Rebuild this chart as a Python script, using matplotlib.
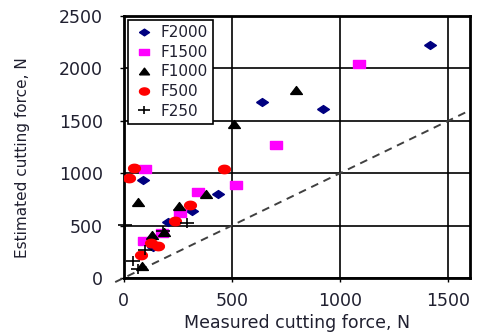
import numpy as np
import matplotlib
matplotlib.use("Agg")
import matplotlib.pyplot as plt
from matplotlib.path import Path

# measured vs estimated cutting force, N
f2000_x = [1415, 640, 920, 90, 435, 315, 205, 135]
f2000_y = [2225, 1680, 1615, 930, 805, 635, 530, 295]

f1500_x = [1085, 705, 100, 520, 345, 260, 175, 95]
f1500_y = [2040, 1265, 1040, 885, 820, 620, 430, 350]

f1000_x = [795, 510, 380, 65, 255, 185, 128, 85]
f1000_y = [1790, 1470, 805, 720, 683, 440, 410, 110]

f500_x = [45, 465, 25, 308, 236, 125, 160, 80]
f500_y = [1045, 1040, 950, 700, 547, 332, 300, 218]

f250_x = [5, 290, 182, 100, 42, 67]
f250_y = [505, 520, 443, 270, 162, 83]

ref_line = [-40, 1600]   # y = x

xticks = [0, 500, 1000, 1500]
yticks = [0, 500, 1000, 1500, 2000, 2500]

x_label = "Measured cutting force, N"
y_label = "Estimated cutting force, N"
txt = "#202030"

# markers are a bit wider than tall in the original
diamond = [(-1.5, 0), (0, 1), (1.5, 0), (0, -1), (-1.5, 0)]
rect = [(-1.5, -1), (-1.5, 1), (1.5, 1), (1.5, -1), (-1.5, -1)]
tri = [(-1.5, -1), (0, 1), (1.5, -1), (-1.5, -1)]
t = np.linspace(0, 2 * np.pi, 30)
ellipse = list(zip(1.4 * np.cos(t), np.sin(t)))
plus = Path([(-1.5, 0), (1.5, 0), (0, -1), (0, 1)],
            [Path.MOVETO, Path.LINETO, Path.MOVETO, Path.LINETO])

fig = plt.figure(figsize=(4.8, 3.34), dpi=100)
ax = fig.add_axes([0.258, 0.168, 0.721, 0.784])

ax.plot(ref_line, ref_line, linestyle=(0, (4, 3)), color="#404040",
        linewidth=1.4, clip_on=False, zorder=2)

ax.plot(f2000_x, f2000_y, linestyle="none", marker=diamond, markersize=8.5,
        color="#000080", mec="#000080", label="F2000", zorder=3)
ax.plot(f1500_x, f1500_y, linestyle="none", marker=rect, markersize=8.5,
        color="#ff00ff", mec="#ff00ff", label="F1500", zorder=3)
ax.plot(f1000_x, f1000_y, linestyle="none", marker=tri, markersize=8.5,
        color="black", mec="black", label="F1000", zorder=3)
ax.plot(f500_x, f500_y, linestyle="none", marker=ellipse, markersize=8.5,
        color="#ff0000", mec="#ff0000", label="F500", zorder=3)
ax.plot(f250_x, f250_y, linestyle="none", marker=plus, markersize=10.5,
        color="black", mec="black", mew=1.2, label="F250", zorder=4,
        clip_on=False)

ax.set_xlim(0, 1600)
ax.set_ylim(0, 2500)
ax.set_xticks(xticks)
ax.set_yticks(yticks)
ax.grid(True, color="black", linewidth=1.2)
ax.set_axisbelow(True)
for s in ax.spines.values():
    s.set_linewidth(2)
    s.set_color("black")
ax.tick_params(direction="out", length=3, width=1, colors="black",
               labelcolor=txt, labelsize=12.5)
ax.tick_params(axis="x", pad=7)
ax.tick_params(axis="y", pad=12)

ax.set_xlabel(x_label, fontsize=12.5, color=txt)
ax.xaxis.set_label_coords(0.5, -0.138)
ax.set_ylabel(y_label, fontsize=11, color=txt)
ax.yaxis.set_label_coords(-0.27, 0.46)

leg = ax.legend(loc="upper left", bbox_to_anchor=(0.012, 0.985),
                borderaxespad=0, fontsize=11, frameon=True, fancybox=False,
                edgecolor="black", framealpha=1, handlelength=1.4,
                handletextpad=0.4, labelspacing=0.3, borderpad=0.35,
                markerscale=0.85)
leg.get_frame().set_linewidth(1.2)
for tx in leg.get_texts():
    tx.set_color(txt)

fig.savefig("out.png", dpi=100)
